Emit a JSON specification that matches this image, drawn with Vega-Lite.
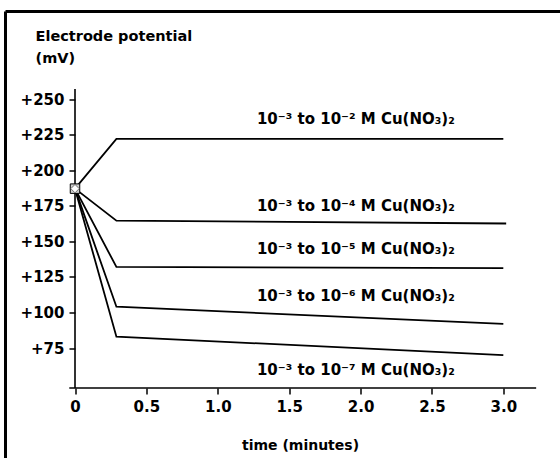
{
  "$schema": "https://vega.github.io/schema/vega-lite/v6.json",
  "width": 554.5,
  "height": 446.5,
  "autosize": "none",
  "padding": {"left": 5.5, "top": 11.5, "right": 0, "bottom": 0},
  "background": "white",
  "config": {
    "view": {"stroke": null},
    "font": "DejaVu Sans",
    "axis": {
      "domain": false,
      "grid": false,
      "ticks": true,
      "tickColor": "black",
      "tickSize": 6,
      "tickWidth": 1.5,
      "labelFont": "DejaVu Sans",
      "labelFontWeight": "bold",
      "labelFontSize": 15,
      "labelColor": "black",
      "titleFont": "DejaVu Sans",
      "titleFontWeight": "bold",
      "titleColor": "black"
    }
  },
  "datasets": {
    "lines": [
      {"series": "s2", "t": 0, "mV": 187},
      {"series": "s2", "t": 0.29, "mV": 222},
      {"series": "s2", "t": 3.0, "mV": 222},
      {"series": "s4", "t": 0, "mV": 187},
      {"series": "s4", "t": 0.29, "mV": 164.5},
      {"series": "s4", "t": 3.02, "mV": 162.5},
      {"series": "s5", "t": 0, "mV": 187},
      {"series": "s5", "t": 0.29, "mV": 132},
      {"series": "s5", "t": 3.0, "mV": 131.2},
      {"series": "s6", "t": 0, "mV": 187},
      {"series": "s6", "t": 0.29, "mV": 104},
      {"series": "s6", "t": 3.0, "mV": 92},
      {"series": "s7", "t": 0, "mV": 187},
      {"series": "s7", "t": 0.29, "mV": 83},
      {"series": "s7", "t": 3.0, "mV": 70}
    ],
    "labels": [
      {"label": "10⁻³ to 10⁻² M Cu(NO₃)₂", "t": 2.66, "mV": 232.2},
      {"label": "10⁻³ to 10⁻⁴ M Cu(NO₃)₂", "t": 2.66, "mV": 171.5},
      {"label": "10⁻³ to 10⁻⁵ M Cu(NO₃)₂", "t": 2.66, "mV": 141},
      {"label": "10⁻³ to 10⁻⁶ M Cu(NO₃)₂", "t": 2.66, "mV": 108.2},
      {"label": "10⁻³ to 10⁻⁷ M Cu(NO₃)₂", "t": 2.66, "mV": 56}
    ],
    "start": [{"t": 0, "mV": 187}],
    "one": [{}]
  },
  "layer": [
    {
      "data": {"name": "lines"},
      "mark": {"type": "line", "color": "black", "strokeWidth": 1.8},
      "encoding": {
        "x": {
          "field": "t",
          "type": "quantitative",
          "scale": {"domain": [-0.4868, 3.397], "nice": false, "zero": false},
          "axis": {
            "title": "time (minutes)",
            "titleFontSize": 14,
            "titleAlign": "center",
            "titleBaseline": "alphabetic",
            "titleX": 294.5,
            "titleY": 61,
            "values": [0, 0.5, 1, 1.5, 2, 2.5, 3],
            "labelExpr": "datum.value == 0 ? '0' : format(datum.value, '.1f')",
            "labelPadding": 5,
            "offset": -70
          }
        },
        "y": {
          "field": "mV",
          "type": "quantitative",
          "scale": {"domain": [-2.3, 311.5], "nice": false, "zero": false},
          "axis": {
            "title": ["Electrode potential", "(mV)"],
            "titleFontSize": 14.5,
            "titleAngle": 0,
            "titleAlign": "left",
            "titleBaseline": "alphabetic",
            "titleLineHeight": 22,
            "titleX": -40,
            "titleY": 29,
            "values": [75, 100, 125, 150, 175, 200, 225, 250],
            "labelExpr": "'+' + datum.label",
            "labelPadding": 5,
            "offset": -69.5
          }
        },
        "detail": {"field": "series"}
      }
    },
    {
      "data": {"name": "one"},
      "mark": {"type": "rule", "color": "black", "strokeWidth": 3},
      "encoding": {"x": {"datum": -0.4868, "type": "quantitative"}}
    },
    {
      "data": {"name": "one"},
      "mark": {"type": "rule", "color": "black", "strokeWidth": 3},
      "encoding": {"y": {"datum": 311.5, "type": "quantitative"}}
    },
    {
      "data": {"name": "one"},
      "mark": {"type": "rule", "color": "black", "strokeWidth": 1.6},
      "encoding": {
        "x": {"datum": 0, "type": "quantitative"},
        "y": {"datum": 46.9, "type": "quantitative"},
        "y2": {"datum": 257}
      }
    },
    {
      "data": {"name": "one"},
      "mark": {"type": "rule", "color": "black", "strokeWidth": 1.6},
      "encoding": {
        "x": {"datum": -0.04, "type": "quantitative"},
        "x2": {"datum": 3.23},
        "y": {"datum": 46.9, "type": "quantitative"}
      }
    },
    {
      "data": {"name": "labels"},
      "mark": {"type": "text", "align": "right", "baseline": "alphabetic", "font": "DejaVu Sans", "fontWeight": "bold", "fontSize": 15, "color": "black"},
      "encoding": {
        "x": {"field": "t", "type": "quantitative"},
        "y": {"field": "mV", "type": "quantitative"},
        "text": {"field": "label"}
      }
    },
    {
      "data": {"name": "start"},
      "mark": {"type": "point", "shape": "square", "filled": true, "fill": "#cccccc", "stroke": "black", "strokeWidth": 1, "size": 90, "opacity": 1},
      "encoding": {
        "x": {"field": "t", "type": "quantitative"},
        "y": {"field": "mV", "type": "quantitative"}
      }
    },
    {
      "data": {"name": "start"},
      "mark": {"type": "point", "shape": "diamond", "filled": true, "fill": "white", "stroke": "#555555", "strokeWidth": 0.8, "size": 70, "opacity": 1},
      "encoding": {
        "x": {"field": "t", "type": "quantitative"},
        "y": {"field": "mV", "type": "quantitative"}
      }
    }
  ]
}
